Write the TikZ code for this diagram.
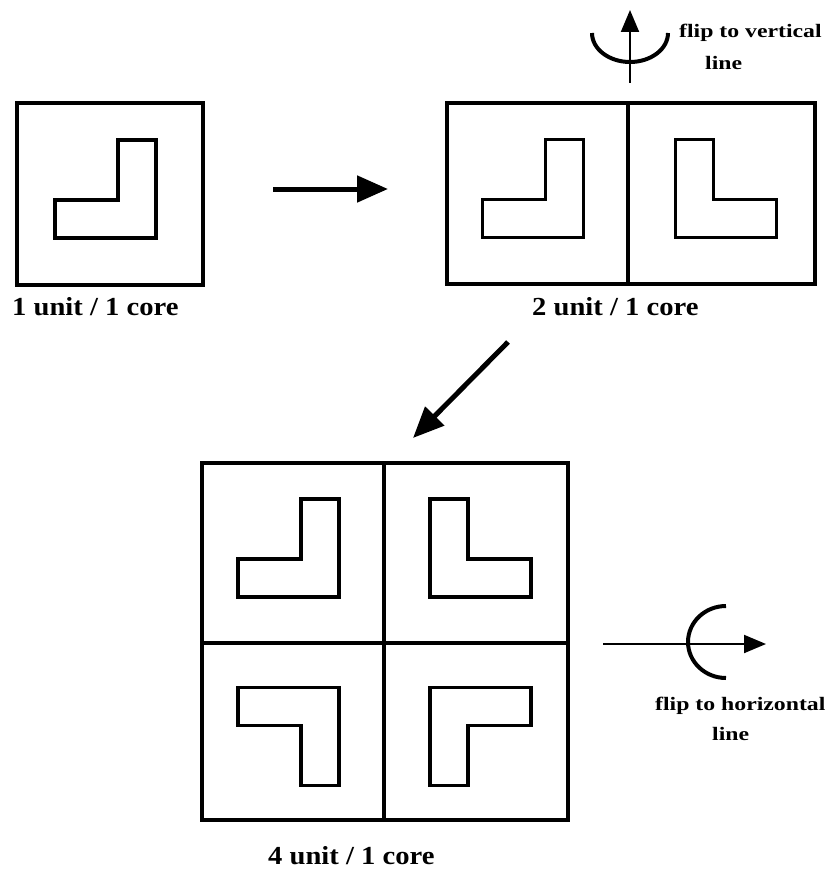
\documentclass[tikz,border=0pt]{standalone}
\usepackage{fontspec}
\setmainfont{Liberation Serif}[FakeStretch=1.1]
\newfontfamily\flipfont{Liberation Serif}[FakeStretch=1.25]
\usetikzlibrary{arrows.meta}

\tikzset{
    ell/.pic={
        \draw[line width=3.6pt, line join=miter]
            (8,-54) -- (46,-54) -- (46,44) -- (-55,44) -- (-55,6) -- (8,6) -- cycle;
    }
}

\begin{document}
\begin{tikzpicture}[
    x=1pt, y=-1pt,
    cell/.style={draw, line width=4pt, minimum width=183pt, minimum height=180pt, inner sep=0pt},
    caption/.style={anchor=base west, inner sep=0pt, font=\bfseries\fontsize{26}{30}\selectfont},
    flip label/.style={anchor=base west, inner sep=0pt, font=\flipfont\bfseries\fontsize{19}{22}\selectfont},
    big arrow/.style={line width=5pt, -{Triangle[length=31pt, width=26pt]}},
    axis arrow/.style={line width=2pt, -{Triangle[length=22pt, width=18pt]}},
    turn/.style={line width=4pt}
]
    \useasboundingbox (0,0) rectangle (826,872);

    % one unit
    \node[cell, minimum width=186pt, minimum height=182pt] (a) at (110,194) {};
    \pic at (a) {ell};

    % two units
    \node[cell, minimum width=181pt] (b1) at (537.5,193.5) {};
    \node[cell, minimum width=187pt] (b2) at (721.5,193.5) {};
    \pic at (b1) {ell};
    \pic[xscale=-1] at (b2) {ell};

    % four units
    \node[cell, minimum width=182pt] (c1) at (293,553) {};
    \node[cell, minimum width=184pt] (c2) at (476,553) {};
    \node[cell, minimum width=182pt, minimum height=177pt] (c3) at (293,731.5) {};
    \node[cell, minimum width=184pt, minimum height=177pt] (c4) at (476,731.5) {};
    \pic at (c1) {ell};
    \pic[xscale=-1] at (c2) {ell};
    \pic[yscale=-1] at (c3) {ell};
    \pic[xscale=-1, yscale=-1] at (c4) {ell};

    \node[caption] (la) at (12,315) {1 unit / 1 core};
    \node[caption] (lb) at (532,315) {2 unit / 1 core};
    \node[caption] (lc) at (268,864) {4 unit / 1 core};

    % steps
    \coordinate (s1) at (273,189);
    \coordinate (e1) at (388,189);
    \coordinate (s2) at (508,342);
    \coordinate (e2) at (413,438);
    \draw[big arrow] (s1) -- (e1);
    \draw[big arrow] (s2) -- (e2);

    % vertical flip axis
    \coordinate (v0) at (630,83);
    \coordinate (v1) at (630,10);
    \draw[axis arrow] (v0) -- (v1);
    \draw[turn] (592,33) arc[start angle=180, end angle=0, x radius=38, y radius=29];
    \node[flip label] (fv) at (679,38) {flip to vertical};
    \node[flip label] (fv2) at (705,70) {line};

    % horizontal flip axis
    \coordinate (h0) at (603,644);
    \coordinate (h1) at (766,644);
    \draw[axis arrow] (h0) -- (h1);
    \draw[turn] (726,606) arc[start angle=270, end angle=90, x radius=38, y radius=36];
    \node[flip label] (fh) at (655,710) {flip to horizontal};
    \node[flip label] (fh2) at (712,740) {line};
\end{tikzpicture}
\end{document}
